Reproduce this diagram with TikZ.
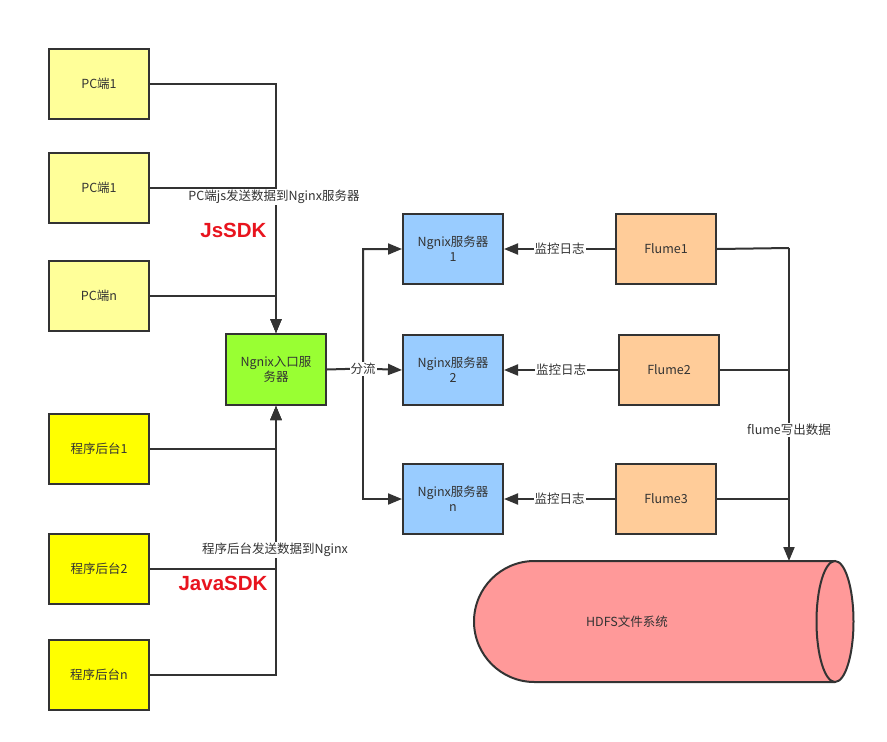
\documentclass[tikz,border=0pt]{standalone}
\usepackage{fontspec}
\setmainfont{Noto Sans CJK SC}
\newfontfamily\boldlat{Liberation Sans}
\usetikzlibrary{arrows.meta}
\definecolor{ink}{HTML}{333333}
\definecolor{pcfill}{HTML}{FFFF99}
\definecolor{progfill}{HTML}{FFFF00}
\definecolor{greenfill}{HTML}{99FF33}
\definecolor{bluefill}{HTML}{99CCFF}
\definecolor{orangefill}{HTML}{FFCC99}
\definecolor{pinkfill}{HTML}{FF9999}
\definecolor{sdkred}{HTML}{E8141E}
\tikzset{
  box/.style={draw=ink, line width=2pt, minimum width=100pt, minimum height=70pt, inner sep=2pt,
    text=ink, font=\fontsize{12.5}{15}\selectfont, align=center, anchor=north west},
  conn/.style={draw=ink, line width=2pt},
  arr/.style={conn, -{Triangle[length=14pt,width=11pt]}},
  lbl/.style={fill=white, inner sep=1pt, text=ink, font=\fontsize{12.5}{15}\selectfont},
  sdk/.style={text=sdkred, font=\boldlat\bfseries\fontsize{20.5}{24}\selectfont, anchor=east}
}
\begin{document}
\begin{tikzpicture}[x=1pt,y=-1pt]
\useasboundingbox (0,0) rectangle (887,742);
% left boxes
\node[box, fill=pcfill] (pc1) at (48,48) {PC端1};
\node[box, fill=pcfill] (pc2) at (48,152) {PC端1};
\node[box, fill=pcfill] (pcn) at (48,260) {PC端n};
\node[box, fill=progfill] (pg1) at (48,413) {程序后台1};
\node[box, fill=progfill] (pg2) at (48,533) {程序后台2};
\node[box, fill=progfill] (pgn) at (48,639) {程序后台n};
% entry nginx
\node[box, fill=greenfill, minimum height=71pt] (ngx) at (225,333) {Ngnix入口服\\务器};
% nginx servers
\node[box, fill=bluefill] (b1) at (402,213) {Ngnix服务器\\1};
\node[box, fill=bluefill] (b2) at (402,334) {Nginx服务器\\2};
\node[box, fill=bluefill] (b3) at (402,463) {Nginx服务器\\n};
% flumes
\node[box, fill=orangefill] (f1) at (615,213) {Flume1};
\node[box, fill=orangefill] (f2) at (618,334) {Flume2};
\node[box, fill=orangefill] (f3) at (615,463) {Flume3};
% HDFS cylinder
\fill[pinkfill, rounded corners=60.5pt] (835,561) -- (474,561) -- (474,682) -- (835,682);
\draw[ink, line width=2pt, rounded corners=60.5pt] (835,561) -- (474,561) -- (474,682) -- (835,682);
\filldraw[fill=pinkfill, draw=ink, line width=2pt] (835,621.5) ellipse [x radius=18.5pt, y radius=60.5pt];
\node[text=ink, font=\fontsize{12.5}{15}\selectfont] (hdfs) at (627,622) {HDFS文件系统};
\coordinate (hdfstop) at (789,561);
% PC connectors
\draw[arr] (pc1.east) -| (ngx.north);
\draw[arr] (pc2.east) -| (ngx.north);
\draw[arr] (pcn.east) -| (ngx.north);
\node[lbl] (lpc) at (274,197) {PC端js发送数据到Nginx服务器};
\node[sdk] (js) at (270,230) {JsSDK};
% program connectors
\draw[arr] (pg1.east) -| (ngx.south);
\draw[arr] (pg2.east) -| (ngx.south);
\draw[arr] (pgn.east) -| (ngx.south);
\node[lbl] (lpg) at (275,550) {程序后台发送数据到Nginx};
\node[sdk] (java) at (271,583) {JavaSDK};
% split
\coordinate (br) at (363,368.5);
\draw[arr] (ngx.east) -- (br) |- (b1.west);
\draw[arr] (br) |- (b3.west);
\draw[arr] (br) -- (b2.west);
\node[lbl] (lsplit) at (363,369) {分流};
% monitoring
\draw[arr] (f1.west) -- (b1.east) node[lbl, midway] {监控日志};
\draw[arr] (f2.west) -- (b2.east) node[lbl, midway] {监控日志};
\draw[arr] (f3.west) -- (b3.east) node[lbl, midway] {监控日志};
% flume to hdfs
\coordinate (j1) at (789,248);
\draw[conn] (f1.east) -- (j1);
\draw[conn] (f2.east) -- (f2.east -| j1);
\draw[conn] (f3.east) -- (f3.east -| j1);
\draw[arr] (j1) -- (hdfstop);
\node[lbl] (lfl) at (789,430) {flume写出数据};
\end{tikzpicture}
\end{document}
